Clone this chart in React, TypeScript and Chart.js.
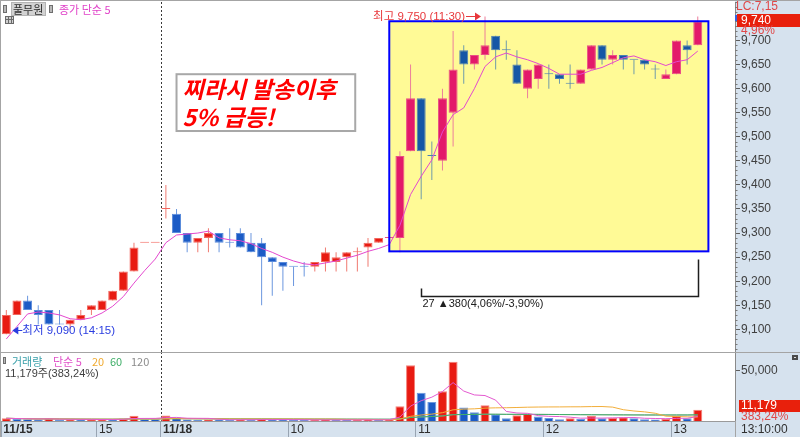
import React, { useEffect, useRef } from 'react';
import { Chart, registerables } from 'chart.js';

Chart.register(...registerables);

// ---------------- data ----------------
const day1Times = ['14:15', '14:20', '14:25', '14:30', '14:35', '14:40', '14:45', '14:50', '14:55', '15:00', '15:05', '15:10', '15:15', '15:20', '15:25'];
const day2Times = [
  '09:00', '09:05', '09:10', '09:15', '09:20', '09:25', '09:30', '09:35', '09:40', '09:45', '09:50', '09:55',
  '10:00', '10:05', '10:10', '10:15', '10:20', '10:25', '10:30', '10:35', '10:40', '10:45', '10:50', '10:55',
  '11:00', '11:05', '11:10', '11:15', '11:20', '11:25', '11:30', '11:35', '11:40', '11:45', '11:50', '11:55',
  '12:00', '12:05', '12:10', '12:15', '12:20', '12:25', '12:30', '12:35', '12:40', '12:45', '12:50', '12:55',
  '13:00', '13:05', '13:10',
];
const futureTimes = ['13:15', '13:20', '13:25'];
const categories = [...day1Times, ...day2Times, ...futureTimes];

const opens = [
  9090, 9130, 9160, 9140, 9140, 9110, 9110, 9120, 9140, 9140, 9160, 9180, 9220, 9280, 9280,
  9350, 9340, 9300, 9280, 9290, 9300, 9280, 9300, 9280, 9280, 9250, 9240,
  9230, 9230, 9230, 9240, 9240, 9250, 9260, 9270, 9280, 9290,
  9290, 9470, 9580, 9460, 9450, 9550, 9680, 9650, 9670, 9710, 9680, 9650,
  9600, 9620, 9630, 9630, 9610, 9610, 9640, 9690, 9660, 9670, 9660, 9660,
  9640, 9620, 9630, 9690, 9690,
];
const highs = [
  9140, 9160, 9170, 9150, 9140, 9140, 9120, 9140, 9150, 9160, 9180, 9220, 9280, 9280, 9280,
  9400, 9350, 9300, 9290, 9310, 9300, 9310, 9310, 9300, 9290, 9250, 9240,
  9230, 9240, 9240, 9270, 9260, 9260, 9270, 9290, 9290, 9290,
  9470, 9650, 9580, 9490, 9600, 9720, 9690, 9670, 9750, 9710, 9700, 9680,
  9640, 9650, 9650, 9630, 9650, 9640, 9690, 9690, 9680, 9670, 9660, 9660,
  9650, 9640, 9700, 9700, 9750,
];
const lows = [
  9090, 9130, 9140, 9110, 9110, 9110, 9100, 9120, 9130, 9140, 9160, 9180, 9220, 9280, 9280,
  9330, 9300, 9260, 9260, 9260, 9260, 9270, 9270, 9260, 9150, 9170, 9180,
  9190, 9210, 9220, 9220, 9220, 9220, 9220, 9230, 9280, 9290,
  9260, 9470, 9370, 9410, 9430, 9480, 9610, 9640, 9660, 9640, 9660, 9610,
  9580, 9600, 9600, 9610, 9600, 9610, 9640, 9650, 9650, 9640, 9630, 9640,
  9620, 9620, 9630, 9650, 9690,
];
const closes = [
  9130, 9160, 9140, 9130, 9110, 9110, 9120, 9130, 9150, 9160, 9180, 9220, 9270, 9280, 9280,
  9350, 9300, 9280, 9290, 9300, 9280, 9280, 9270, 9260, 9250, 9240, 9230,
  9230, 9230, 9240, 9260, 9250, 9260, 9260, 9280, 9290, 9290,
  9460, 9580, 9470, 9460, 9580, 9640, 9650, 9670, 9690, 9680, 9680, 9610,
  9640, 9650, 9630, 9620, 9610, 9640, 9690, 9660, 9670, 9660, 9660, 9650,
  9640, 9630, 9700, 9680, 9740,
];
const volumes = [
  2700, 2200, 1800, 1500, 2600, 1200, 1500, 1300, 1500, 1700, 1600, 2400, 5300, 1800, 1800,
  5500, 3400, 1400, 1200, 1500, 1300, 1100, 1400, 1200, 1900, 1500, 1300,
  1000, 900, 1100, 1400, 1200, 1000, 1100, 1300, 1200, 1500,
  14600, 55500, 28000, 18800, 29500, 59000, 13500, 8800, 15700, 6700, 2800, 5800,
  7100, 4400, 3100, 1700, 2800, 2000, 5300, 2700, 2900, 3700, 2700, 1700,
  1500, 2000, 5500, 2800, 11179,
];
// closes of the bars just before the visible window (for the 5-bar average)
const priorCloses = [9030, 9010, 9110, 9120];

const timeTickIndex = [0, 9, 15, 27, 39, 51, 63];
const timeTickText = ['11/15', '15', '11/18', '10', '11', '12', '13'];
const priceTicks = [9100, 9150, 9200, 9250, 9300, 9350, 9400, 9450, 9500, 9550, 9600, 9650, 9700];
const volumeTicks = [50000];
const priceMin = 9055;
const priceMax = 9780;
const volumeMax = 67600;

// annotations (in data coordinates: slot index / price)
const highlightFrom = 36;
const highlightTo = 66;
const highlightTop = 9740;
const highlightBottom = 9262;
const noteFrom = 16;
const noteTo = 32.8;
const noteTop = 9630;
const noteBottom = 9512;
const noteLines = ['찌라시 발송이후', '5% 급등!'];
const rangeFrom = 39;
const rangeTo = 65;
const rangeLeftTop = 9185;
const rangeRightTop = 9245;
const rangeBase = 9170;
const lcText = 'LC:7,15';
const volumeRatio = 383.24;

// ---------------- helpers ----------------
const NUM_FONT = "'Liberation Sans', Arial, sans-serif";
const KR_FONT = "'Noto Sans CJK KR', 'Liberation Sans', sans-serif";
const MIX_FONT = "'Liberation Sans', 'Noto Sans CJK KR', sans-serif";
const AXIS_BG = '#D6E2EE';
const FRAME = '#A4A4A4';

const fmt = (v: number) => Math.round(v).toLocaleString('en-US');
const fmtDec = (v: number) => v.toFixed(2).replace('.', ',');

function movingAverage(values: number[], period: number, prior: number[] = []) {
  const all = [...prior, ...values];
  return values.map((_, i) => {
    const end = prior.length + i + 1;
    const start = Math.max(0, end - period);
    const win = all.slice(start, end);
    return win.reduce((s, v) => s + v, 0) / win.length;
  });
}

const upFlags: boolean[] = [];
closes.forEach((c, i) => {
  const o = opens[i];
  let up: boolean;
  if (c !== o) up = c > o;
  else if (i === 0) up = true;
  else if (c !== closes[i - 1]) up = c > closes[i - 1];
  else if (c !== opens[i - 1]) up = c > opens[i - 1];
  else up = upFlags[i - 1];
  upFlags.push(up);
});
const volUp = volumes.map((v, i) => (i === 0 ? true : v > volumes[i - 1]));

const PAL = {
  outside: { upBody: '#E81B12', upEdge: '#F2675E', upWick: '#F07A70', dnBody: '#1B5BC6', dnEdge: '#5B8CDB', dnWick: '#6B97DF' },
  inside: { upBody: '#E3196A', upEdge: '#EA4F86', upWick: '#EC7E9C', dnBody: '#1557A6', dnEdge: '#4B7EB4', dnWick: '#6F9BAA' },
};
const palFor = (i: number) => (i >= highlightFrom && i <= highlightTo ? PAL.inside : PAL.outside);

function text(ctx: any, s: string, x: number, y: number, font: string, color: string, align = 'left') {
  ctx.font = font;
  ctx.fillStyle = color;
  ctx.textAlign = align;
  ctx.textBaseline = 'middle';
  ctx.fillText(s, x, y);
}

const noPad = (s: any) => {
  s.paddingTop = 0;
  s.paddingBottom = 0;
  s.paddingLeft = 0;
  s.paddingRight = 0;
};

// ---------------- price chart ----------------
function priceConfig(): any {
  const bodies = opens.map((o, i) => [o, closes[i]]);
  const wicks = lows.map((l, i) => [l, highs[i]]);
  const ma5 = movingAverage(closes, 5, priorCloses);

  const decor = {
    id: 'priceDecor',
    beforeDraw(chart: any) {
      const { ctx, chartArea: a, width, height } = chart;
      ctx.save();
      ctx.fillStyle = '#FFFFFF';
      ctx.fillRect(0, 0, width, height);
      ctx.fillStyle = AXIS_BG;
      ctx.fillRect(a.right, 0, width - a.right, height);
      ctx.restore();
    },
    beforeDatasetsDraw(chart: any) {
      const { ctx, chartArea: a, scales } = chart;
      const xs = scales.x, ys = scales.y;
      ctx.save();
      const x0 = xs.getPixelForValue(highlightFrom), x1 = xs.getPixelForValue(highlightTo);
      const y0 = ys.getPixelForValue(highlightTop), y1 = ys.getPixelForValue(highlightBottom);
      ctx.fillStyle = '#FFFA96';
      ctx.fillRect(x0, y0, x1 - x0, y1 - y0);
      const sx = Math.round(xs.getPixelForValue(day1Times.length - 0.5)) + 0.5;
      ctx.strokeStyle = '#3A3A3A';
      ctx.lineWidth = 1;
      ctx.setLineDash([2, 2]);
      ctx.beginPath();
      ctx.moveTo(sx, a.top);
      ctx.lineTo(sx, a.bottom + 1);
      ctx.stroke();
      ctx.restore();
    },
    afterDatasetsDraw(chart: any) {
      const { ctx, scales } = chart;
      const xs = scales.x, ys = scales.y;
      ctx.save();
      // highlight border
      const x0 = xs.getPixelForValue(highlightFrom), x1 = xs.getPixelForValue(highlightTo);
      const y0 = ys.getPixelForValue(highlightTop), y1 = ys.getPixelForValue(highlightBottom);
      ctx.strokeStyle = '#0000FF';
      ctx.lineWidth = 2;
      ctx.strokeRect(x0, y0, x1 - x0, y1 - y0);

      // high label
      const hi = Math.max(...highs);
      const hiIdx = highs.indexOf(hi);
      const hx = xs.getPixelForValue(hiIdx) - 4;
      const hy = Math.round(ys.getPixelForValue(hi)) + 0.5;
      const red = '#E8383C';
      ctx.strokeStyle = red;
      ctx.fillStyle = red;
      ctx.lineWidth = 1;
      ctx.beginPath();
      ctx.moveTo(hx - 15, hy);
      ctx.lineTo(hx - 5, hy);
      ctx.stroke();
      ctx.beginPath();
      ctx.moveTo(hx, hy);
      ctx.lineTo(hx - 6, hy - 4);
      ctx.lineTo(hx - 6, hy + 4);
      ctx.closePath();
      ctx.fill();
      text(ctx, `최고 ${fmt(hi)} (${categories[hiIdx]})`, hx - 16, hy, `11.5px ${MIX_FONT}`, red, 'right');

      // low label
      const lo = Math.min(...lows);
      const loIdx = lows.indexOf(lo);
      const lx = xs.getPixelForValue(loIdx) + 6;
      const ly = Math.round(ys.getPixelForValue(lo)) - 3.5;
      const blue = '#2A3DE0';
      ctx.strokeStyle = blue;
      ctx.fillStyle = blue;
      ctx.beginPath();
      ctx.moveTo(lx, ly);
      ctx.lineTo(lx + 6, ly - 4);
      ctx.lineTo(lx + 6, ly + 4);
      ctx.closePath();
      ctx.fill();
      ctx.beginPath();
      ctx.moveTo(lx + 5, ly);
      ctx.lineTo(lx + 10, ly);
      ctx.stroke();
      text(ctx, `최저 ${fmt(lo)} (${categories[loIdx]})`, lx + 10, ly, `11.5px ${MIX_FONT}`, blue);

      // range bracket
      const rx0 = Math.round(xs.getPixelForValue(rangeFrom)) + 0.5;
      const rx1 = Math.round(xs.getPixelForValue(rangeTo)) + 0.5;
      const ryL = ys.getPixelForValue(rangeLeftTop);
      const ryR = ys.getPixelForValue(rangeRightTop);
      const ryB = Math.round(ys.getPixelForValue(rangeBase)) + 0.5;
      ctx.strokeStyle = '#1E1E1E';
      ctx.lineWidth = 1.5;
      ctx.beginPath();
      ctx.moveTo(rx0, ryL);
      ctx.lineTo(rx0, ryB);
      ctx.lineTo(rx1, ryB);
      ctx.lineTo(rx1, ryR);
      ctx.stroke();
      const diff = highs[rangeTo] - lows[rangeFrom];
      const label = `${rangeTo - rangeFrom + 1} ▲${diff}(${fmtDec((diff / lows[rangeFrom]) * 100)}%/-${fmtDec((diff / highs[rangeTo]) * 100)}%)`;
      text(ctx, label, rx0 + 1, ryB + 7, `11px ${MIX_FONT}`, '#202020');

      // note box
      const bx0 = xs.getPixelForValue(noteFrom), bx1 = xs.getPixelForValue(noteTo);
      const by0 = ys.getPixelForValue(noteTop), by1 = ys.getPixelForValue(noteBottom);
      ctx.fillStyle = '#FFFFFF';
      ctx.fillRect(bx0, by0, bx1 - bx0, by1 - by0);
      ctx.strokeStyle = '#A8A8A8';
      ctx.lineWidth = 2;
      ctx.strokeRect(bx0, by0, bx1 - bx0, by1 - by0);
      const nf = `italic bold 23px ${KR_FONT}`;
      text(ctx, noteLines[0], bx0 + 6, by0 + 15, nf, '#FF0000');
      text(ctx, noteLines[1], bx0 + 6, by0 + 43, nf, '#FF0000');
      ctx.restore();
    },
    afterDraw(chart: any) {
      const { ctx, chartArea: a, width, height, scales } = chart;
      const ys = scales.y;
      ctx.save();
      // frame
      ctx.strokeStyle = FRAME;
      ctx.lineWidth = 1;
      ctx.beginPath();
      ctx.moveTo(0, 0.5);
      ctx.lineTo(width, 0.5);
      ctx.moveTo(0.5, 0);
      ctx.lineTo(0.5, height);
      ctx.stroke();

      // minor ticks on price axis
      ctx.strokeStyle = '#7A7A7A';
      ctx.beginPath();
      for (let v = Math.ceil(priceMin / 10) * 10; v <= priceMax; v += 10) {
        if (v % 50 === 0) continue;
        const py = Math.round(ys.getPixelForValue(v)) + 0.5;
        ctx.moveTo(a.right, py);
        ctx.lineTo(a.right + 2.5, py);
      }
      ctx.stroke();

      // legend top-left
      ctx.fillStyle = '#B8B8B8';
      ctx.fillRect(3, 5, 4, 8);
      ctx.strokeStyle = '#6E6E6E';
      ctx.strokeRect(3.5, 5.5, 3, 7);
      ctx.fillStyle = '#D2D2D2';
      ctx.fillRect(11, 2, 35, 14);
      ctx.strokeStyle = '#B4B4B4';
      ctx.strokeRect(11.5, 2.5, 34, 13);
      text(ctx, '풀무원', 13, 9.5, `11px ${KR_FONT}`, '#2E2E2E');
      ctx.fillStyle = '#B8B8B8';
      ctx.fillRect(49, 5, 4, 8);
      ctx.strokeStyle = '#6E6E6E';
      ctx.strokeRect(49.5, 5.5, 3, 7);
      text(ctx, '종가 단순 5', 59, 9.5, `11px ${KR_FONT}`, '#E040C8');
      // grid icon
      ctx.fillStyle = '#CFCFCF';
      ctx.fillRect(5, 16, 9, 8);
      ctx.strokeStyle = '#6A6A6A';
      ctx.strokeRect(5.5, 16.5, 8, 7);
      ctx.beginPath();
      ctx.moveTo(8.5, 17);
      ctx.lineTo(8.5, 24);
      ctx.moveTo(11.5, 17);
      ctx.lineTo(11.5, 24);
      ctx.moveTo(6, 19.5);
      ctx.lineTo(13, 19.5);
      ctx.stroke();

      // right axis overlays
      const ax = a.right;
      const lastClose = closes[closes.length - 1];
      const prevDayClose = closes[day1Times.length - 1];
      text(ctx, lcText, ax + 1, 7, `12px ${NUM_FONT}`, '#E04848');
      const ly = ys.getPixelForValue(lastClose);
      ctx.fillStyle = '#E8200C';
      ctx.fillRect(ax + 2, Math.round(ly) - 7, width - ax - 2, 13);
      ctx.fillStyle = '#3462E0';
      ctx.fillRect(ax, Math.round(ly) - 6, 2, 6);
      text(ctx, fmt(lastClose), ax + 6, Math.round(ly) - 0.5, `12px ${NUM_FONT}`, '#FFFFFF');
      text(ctx, `${fmtDec((lastClose / prevDayClose - 1) * 100)}%`, ax + 6, Math.round(ly) + 10, `12px ${NUM_FONT}`, '#E04848');
      ctx.restore();
    },
  };

  return {
    type: 'bar',
    data: {
      labels: categories,
      datasets: [
        {
          type: 'line',
          data: ma5,
          borderColor: '#E448CF',
          borderWidth: 1,
          pointRadius: 0,
          tension: 0,
          order: 1,
        },
        {
          type: 'bar',
          data: bodies,
          backgroundColor: (c: any) => (upFlags[c.dataIndex] ? palFor(c.dataIndex).upBody : palFor(c.dataIndex).dnBody),
          borderColor: (c: any) => (upFlags[c.dataIndex] ? palFor(c.dataIndex).upEdge : palFor(c.dataIndex).dnEdge),
          borderWidth: 1,
          borderSkipped: false,
          barThickness: 9,
          minBarLength: 1,
          grouped: false,
          inflateAmount: 0,
          order: 2,
        },
        {
          type: 'bar',
          data: wicks,
          backgroundColor: (c: any) => (upFlags[c.dataIndex] ? palFor(c.dataIndex).upWick : palFor(c.dataIndex).dnWick),
          borderWidth: 0,
          barThickness: 1,
          grouped: false,
          inflateAmount: 0,
          order: 3,
        },
      ],
    },
    options: {
      responsive: false,
      animation: false,
      devicePixelRatio: 1,
      events: [],
      layout: { padding: { left: 1, right: 0, top: 2, bottom: 1 } },
      plugins: { legend: { display: false }, tooltip: { enabled: false } },
      scales: {
        x: { type: 'category', display: false, offset: true, grid: { offset: true } },
        y: {
          position: 'right',
          min: priceMin,
          max: priceMax,
          afterBuildTicks: (s: any) => {
            s.ticks = priceTicks.map((v) => ({ value: v }));
          },
          afterFit: (s: any) => {
            s.width = 65;
            noPad(s);
          },
          ticks: { callback: (v: any) => fmt(Number(v)), color: '#404040', font: { family: NUM_FONT, size: 12 }, padding: 1 },
          grid: { drawOnChartArea: false, drawTicks: true, tickLength: 5, color: '#5E5E5E' },
          border: { display: true, color: '#8A8A8A' },
        },
      },
    },
    plugins: [decor],
  };
}

// ---------------- volume chart ----------------
function volumeConfig(): any {
  const ma5 = movingAverage(volumes, 5);
  const ma20 = movingAverage(volumes, 20);
  const ma60 = movingAverage(volumes, 60);
  const ma120 = movingAverage(volumes, 120);
  const lastVol = volumes[volumes.length - 1];

  const decor = {
    id: 'volDecor',
    beforeDraw(chart: any) {
      const { ctx, chartArea: a, width, height } = chart;
      ctx.save();
      ctx.fillStyle = '#FFFFFF';
      ctx.fillRect(0, 0, width, height);
      ctx.fillStyle = AXIS_BG;
      ctx.fillRect(a.right, 0, width - a.right, height);
      ctx.fillRect(0, a.bottom, width, height - a.bottom);
      ctx.restore();
    },
    beforeDatasetsDraw(chart: any) {
      const { ctx, chartArea: a, scales } = chart;
      ctx.save();
      const sx = Math.round(scales.x.getPixelForValue(day1Times.length - 0.5)) + 0.5;
      ctx.strokeStyle = '#3A3A3A';
      ctx.lineWidth = 1;
      ctx.setLineDash([2, 2]);
      ctx.beginPath();
      ctx.moveTo(sx, 0);
      ctx.lineTo(sx, a.bottom);
      ctx.stroke();
      ctx.restore();
    },
    afterDraw(chart: any) {
      const { ctx, chartArea: a, width, height, scales } = chart;
      const ys = scales.y;
      ctx.save();
      ctx.strokeStyle = FRAME;
      ctx.lineWidth = 1;
      ctx.beginPath();
      ctx.moveTo(0, 0.5);
      ctx.lineTo(width, 0.5);
      ctx.moveTo(0.5, 0);
      ctx.lineTo(0.5, height);
      ctx.moveTo(a.right + 0.5, a.bottom);
      ctx.lineTo(a.right + 0.5, height);
      ctx.stroke();

      // legend
      ctx.fillStyle = '#B8B8B8';
      ctx.fillRect(3, 5, 3, 7);
      ctx.strokeStyle = '#6E6E6E';
      ctx.strokeRect(3.5, 5.5, 2, 6);
      const lf = `11px ${KR_FONT}`;
      text(ctx, '거래량', 12, 9.5, lf, '#3AA0AA');
      text(ctx, '단순 5', 53, 9.5, lf, '#E050C8');
      text(ctx, '20', 92, 9.5, lf, '#F0AA30');
      text(ctx, '60', 110, 9.5, lf, '#3FAE68');
      text(ctx, '120', 131, 9.5, lf, '#8C8C8C');
      text(ctx, `${fmt(lastVol)}주(${fmtDec(volumeRatio)}%)`, 5, 21.5, `11px ${MIX_FONT}`, '#404040');

      // last volume box
      const ax = a.right;
      const vy = Math.round(ys.getPixelForValue(lastVol));
      ctx.fillStyle = '#E8200C';
      ctx.fillRect(ax + 4, vy - 10, width - ax - 4, 12);
      text(ctx, fmt(lastVol), ax + 6, vy - 4, `12px ${NUM_FONT}`, '#FFFFFF');
      text(ctx, `${fmtDec(volumeRatio)}%`, ax + 6, vy + 7, `12px ${NUM_FONT}`, '#E04848');

      // small icon top right
      ctx.fillStyle = '#4A4A4A';
      ctx.fillRect(width - 8, 3, 6, 5);
      ctx.fillStyle = '#DDDDDD';
      ctx.fillRect(width - 6, 5, 2, 1);

      // current time
      text(ctx, `${categories[closes.length - 1]}:00`, ax + 6, a.bottom + 8.5, `12px ${NUM_FONT}`, '#303030');
      ctx.restore();
    },
  };

  const line = (data: number[], color: string, order: number) => ({
    type: 'line',
    data,
    borderColor: color,
    borderWidth: 1,
    pointRadius: 0,
    tension: 0,
    order,
  });

  return {
    type: 'bar',
    data: {
      labels: categories,
      datasets: [
        {
          type: 'bar',
          data: volumes,
          backgroundColor: (c: any) => (volUp[c.dataIndex] ? '#E81B12' : '#1B5BC6'),
          borderColor: (c: any) => (volUp[c.dataIndex] ? '#F48078' : '#6C98DE'),
          borderWidth: 1,
          barThickness: 9,
          grouped: false,
          inflateAmount: 0,
          order: 10,
        },
        line(ma120, '#A8A8A8', 5),
        line(ma60, '#3FAE68', 4),
        line(ma20, '#F2AE3A', 3),
        line(ma5, '#E45AD0', 2),
      ],
    },
    options: {
      responsive: false,
      animation: false,
      devicePixelRatio: 1,
      events: [],
      layout: { padding: { left: 1, right: 0, top: 1, bottom: 0 } },
      plugins: { legend: { display: false }, tooltip: { enabled: false } },
      scales: {
        x: {
          type: 'category',
          offset: true,
          afterFit: (s: any) => {
            s.height = 16;
            noPad(s);
          },
          ticks: {
            autoSkip: false,
            maxRotation: 0,
            minRotation: 0,
            align: 'start',
            labelOffset: -3,
            padding: -15,
            color: '#2E2E2E',
            callback: (_v: any, idx: number) => {
              const k = timeTickIndex.indexOf(idx);
              return k >= 0 ? timeTickText[k] : '';
            },
            font: (c: any) => {
              const k = timeTickIndex.indexOf(c.index);
              const bold = k >= 0 && timeTickText[k].includes('/');
              return { family: NUM_FONT, size: 12, weight: bold ? 'bold' : 'normal' };
            },
          },
          grid: {
            offset: true,
            drawOnChartArea: false,
            drawTicks: true,
            tickLength: 16,
            color: (c: any) => (timeTickIndex.includes(c.index) ? '#98A4B2' : 'rgba(0,0,0,0)'),
            tickColor: (c: any) => (timeTickIndex.includes(c.index) ? '#98A4B2' : 'rgba(0,0,0,0)'),
          },
          border: { display: true, color: '#9A9A9A' },
        },
        y: {
          position: 'right',
          min: 0,
          max: volumeMax,
          afterBuildTicks: (s: any) => {
            s.ticks = volumeTicks.map((v) => ({ value: v }));
          },
          afterFit: (s: any) => {
            s.width = 65;
            noPad(s);
          },
          ticks: { callback: (v: any) => fmt(Number(v)), color: '#404040', font: { family: NUM_FONT, size: 12 }, padding: 1 },
          grid: { drawOnChartArea: false, drawTicks: true, tickLength: 5, color: '#5E5E5E' },
          border: { display: true, color: '#8A8A8A' },
        },
      },
    },
    plugins: [decor],
  };
}

export default function App() {
  const priceRef = useRef<HTMLCanvasElement>(null);
  const volRef = useRef<HTMLCanvasElement>(null);

  useEffect(() => {
    document.body.style.margin = '0';
    const pc = new Chart(priceRef.current as HTMLCanvasElement, priceConfig());
    const vc = new Chart(volRef.current as HTMLCanvasElement, volumeConfig());
    return () => {
      pc.destroy();
      vc.destroy();
    };
  }, []);

  return (
    <div style={{ position: 'relative', width: 800, height: 437, background: '#FFFFFF', overflow: 'hidden' }}>
      <canvas ref={priceRef} width={800} height={352} style={{ position: 'absolute', left: 0, top: 0, width: 800, height: 352 }} />
      <canvas ref={volRef} width={800} height={85} style={{ position: 'absolute', left: 0, top: 352, width: 800, height: 85 }} />
    </div>
  );
}
